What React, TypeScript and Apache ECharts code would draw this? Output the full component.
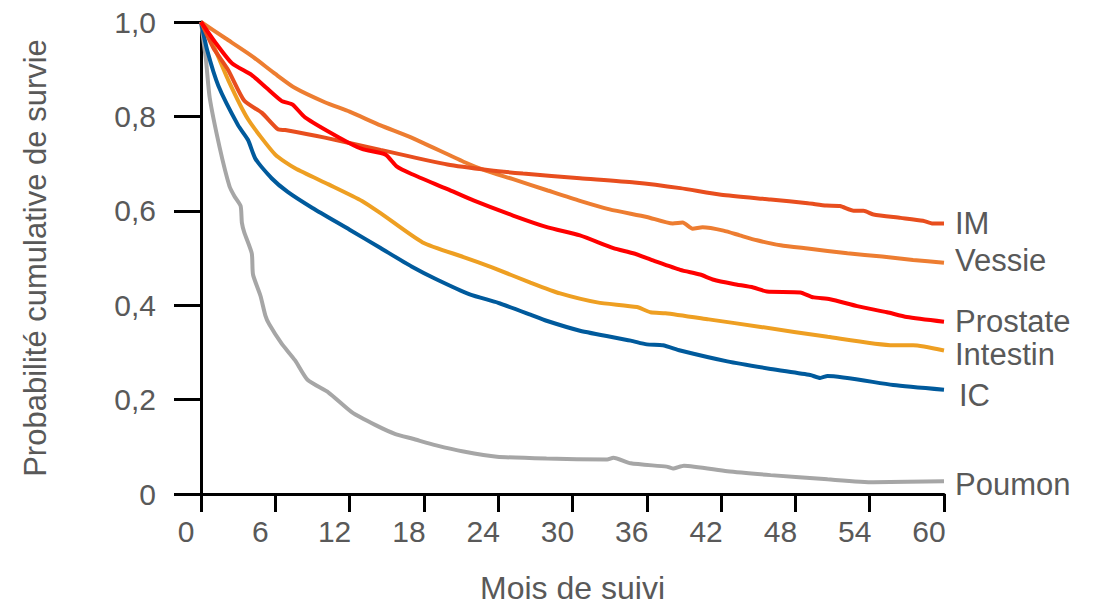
import React, { useEffect, useRef } from "react";
import * as echarts from "echarts";

const xTicks = [0, 6, 12, 18, 24, 30, 36, 42, 48, 54, 60];
const yTickLabels = ["0", "0,2", "0,4", "0,6", "0,8", "1,0"];

const seriesNames = ["Poumon", "IC", "Intestin", "Vessie", "IM", "Prostate"];

const imData = [[0,1.0],[1.0,0.945],[2.2,0.898],[3.5,0.833],[4.9,0.808],[6.2,0.773],[6.8,0.771],[10,0.755],[14.5,0.729],[19.9,0.698],[23.3,0.686],[26,0.679],[30.6,0.669],[35,0.66],[38.7,0.648],[42,0.634],[46,0.624],[49,0.616],[50.5,0.611],[51.6,0.61],[52.7,0.6],[53.5,0.6],[54.3,0.592],[56.5,0.585],[58.3,0.579],[59.1,0.573],[60,0.573]];
const vessieData = [[0,1.0],[2,0.965],[4,0.93],[6,0.89],[7.6,0.86],[10,0.83],[12,0.81],[14.5,0.781],[17,0.755],[21.2,0.704],[23,0.685],[25.2,0.667],[28,0.643],[30.6,0.621],[33,0.603],[36,0.587],[38.1,0.573],[38.9,0.575],[39.7,0.562],[40.5,0.565],[42.2,0.558],[43.5,0.548],[44.9,0.5375],[46.8,0.527],[49,0.52],[52.2,0.51],[55,0.503],[57.5,0.496],[60,0.49]];
const prostateData = [[0,1.0],[1.2,0.955],[2.5,0.9125],[4.1,0.8875],[5.3,0.86],[6.5,0.833],[7.4,0.825],[8.4,0.798],[11.1,0.756],[13,0.731],[14.9,0.719],[15.8,0.694],[17,0.678],[19.9,0.646],[22,0.622],[25.2,0.59],[28,0.565],[30.6,0.548],[33.3,0.521],[34.9,0.51],[36.5,0.495],[38.7,0.475],[40.3,0.465],[41.4,0.454],[43,0.445],[44.6,0.4375],[45.7,0.429],[48.4,0.427],[49.4,0.417],[50.8,0.4125],[53,0.398],[55.4,0.385],[57,0.375],[60,0.365]];
const intestinData = [[0,1.0],[0.6,0.975],[2.2,0.877],[3.8,0.794],[6,0.719],[7.6,0.69],[10.3,0.656],[13,0.621],[14.5,0.595],[17.9,0.533],[21.2,0.502],[23.5,0.48],[26.6,0.448],[29,0.425],[32,0.406],[35.2,0.396],[36.3,0.385],[37.5,0.383],[41,0.37],[45.2,0.354],[50.6,0.333],[55.9,0.315],[57.5,0.315],[60,0.304]];
const icData = [[0,1.0],[0.5,0.94],[1.4,0.865],[3,0.781],[3.8,0.75],[4.4,0.71],[5.7,0.669],[7,0.64],[9,0.606],[12,0.56],[14.5,0.521],[17,0.482],[19,0.455],[21.7,0.423],[24,0.405],[26.6,0.38],[27.9,0.367],[30.6,0.346],[34.7,0.325],[36,0.317],[37.3,0.315],[38.7,0.304],[42.5,0.281],[46,0.265],[49.2,0.252],[50,0.246],[50.6,0.25],[55.9,0.231],[60,0.221]];
const poumonData = [[0,1.0],[0.4,0.92],[0.7,0.84],[1.5,0.735],[2.3,0.652],[2.7,0.631],[3.2,0.61],[3.3,0.575],[3.5,0.554],[4.1,0.51],[4.2,0.465],[4.8,0.42],[5.2,0.378],[5.5,0.36],[6.5,0.319],[7.6,0.283],[8.6,0.242],[10.3,0.215],[12.2,0.173],[14.1,0.146],[15.7,0.127],[17.1,0.117],[19,0.103],[21.2,0.09],[23.9,0.079],[27.9,0.075],[32.8,0.073],[33.3,0.077],[34.7,0.065],[37.6,0.058],[38.1,0.054],[39,0.06],[42.5,0.048],[46,0.04],[50.6,0.031],[54.3,0.025],[60,0.027]];

const seriesData = [poumonData, icData, intestinData, vessieData, imData, prostateData];
const seriesColors = ["#A6A6A6", "#005A9C", "#EE9F22", "#ED7D31", "#E84E1E", "#FF0000"];
const labelOffsets = [[0, 3], [4, 6], [0, 4], [0, -2], [0, 0], [0, 0]];

const TEXT = "#595959";
const FONT = "Liberation Sans, Arial, sans-serif";

export default function App() {
  const ref = useRef<HTMLDivElement>(null);
  useEffect(() => {
    if (!ref.current) return;
    const chart = echarts.init(ref.current, null, { renderer: "svg" });
    chart.setOption({
      animation: false,
      textStyle: { fontFamily: FONT },
      grid: { left: 201, right: 157, top: 22, bottom: 106, containLabel: false },
      xAxis: {
        type: "value",
        min: xTicks[0],
        max: xTicks[xTicks.length - 1],
        interval: 6,
        name: "Mois de suivi",
        nameLocation: "middle",
        nameGap: 78,
        nameTextStyle: { color: TEXT, fontSize: 32, fontFamily: FONT },
        axisLine: { show: true, lineStyle: { color: "#000", width: 3 } },
        axisTick: { show: true, length: 18, lineStyle: { color: "#000", width: 3 } },
        axisLabel: { color: TEXT, fontSize: 30, fontFamily: FONT, margin: 22, padding: [0, 30, 0, 0] },
        splitLine: { show: false },
      },
      yAxis: {
        type: "value",
        min: 0,
        max: 1,
        interval: 0.2,
        name: "Probabilité cumulative de survie",
        nameLocation: "middle",
        nameGap: 150,
        nameRotate: 90,
        nameTextStyle: { color: TEXT, fontSize: 31, fontFamily: FONT },
        axisLine: { show: true, lineStyle: { color: "#000", width: 3 } },
        axisTick: { show: true, length: 27, lineStyle: { color: "#000", width: 3 } },
        axisLabel: {
          color: TEXT,
          fontSize: 30,
          fontFamily: FONT,
          margin: 45,
          formatter: (v: number) => yTickLabels[Math.round(v / 0.2)] ?? "",
        },
        splitLine: { show: false },
      },
      series: seriesNames.map((name, i) => ({
        name,
        type: "line",
        data: seriesData[i],
        showSymbol: false,
        symbol: "none",
        smooth: 0.2,
        lineStyle: { color: seriesColors[i], width: 4 },
        itemStyle: { color: seriesColors[i] },
        z: 2 + i,
        endLabel: {
          show: true,
          formatter: name,
          color: TEXT,
          fontSize: 31,
          fontFamily: FONT,
          distance: 11,
          offset: labelOffsets[i],
        },
      })),
    });
    return () => chart.dispose();
  }, []);
  return <div ref={ref} style={{ width: 1101, height: 609, position: "absolute", left: 0, top: 0 }} />;
}
